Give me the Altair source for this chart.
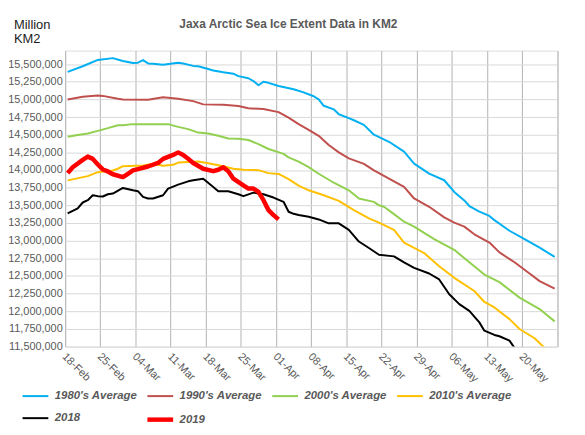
import json
import altair as alt
import pandas as pd

TITLE = "Jaxa Arctic Sea Ice Extent Data in KM2"
UNIT = "Million\nKM2"
TICK_LABELS = ["18-Feb", "25-Feb", "04-Mar", "11-Mar", "18-Mar", "25-Mar", "01-Apr",
               "08-Apr", "15-Apr", "22-Apr", "29-Apr", "06-May", "13-May", "20-May"]
SERIES = ["1980's Average", "1990's Average", "2000's Average", "2010's Average", "2018", "2019"]
COLORS = ["#00B0F0", "#C0504D", "#92D050", "#FFC000", "#000000", "#FF0000"]
WIDTHS = [2, 2, 2, 2, 2, 4.5]

# day index 0 = 18-Feb ; values in million km2
AVG1980_DAY = [0, 3, 6, 9, 11, 13, 14, 15, 16, 17, 19, 22, 23, 25, 26, 28, 29, 31, 33, 34, 36, 37,
               38, 39, 40, 42, 45, 47, 49, 50, 51, 53, 54, 56, 57, 59, 61, 64, 67, 69, 72, 75, 77,
               79, 80, 82, 84, 85, 88, 91, 94, 97]
AVG1980_VAL = [15.39, 15.47, 15.56, 15.585, 15.545, 15.515, 15.52, 15.556, 15.51, 15.505, 15.49,
               15.52, 15.51, 15.475, 15.47, 15.43, 15.41, 15.385, 15.365, 15.33, 15.30, 15.26,
               15.20, 15.25, 15.235, 15.19, 15.145, 15.10, 15.045, 15.0, 14.91, 14.86, 14.79,
               14.735, 14.705, 14.64, 14.50, 14.40, 14.26, 14.09, 13.95, 13.855, 13.69, 13.57,
               13.49, 13.41, 13.35, 13.29, 13.14, 13.02, 12.90, 12.77]

AVG1990_DAY = [0, 3, 6, 7, 10, 11, 16, 19, 22, 25, 27, 31, 34, 36, 39, 42, 44, 46, 48, 50, 52, 54,
               56, 59, 61, 64, 67, 69, 72, 75, 77, 79, 81, 84, 86, 89, 92, 94, 97]
AVG1990_VAL = [15.0, 15.037, 15.056, 15.05, 15.01, 15.0, 14.995, 15.03, 15.01, 14.976, 14.93,
               14.924, 14.906, 14.874, 14.864, 14.82, 14.742, 14.65, 14.57, 14.485, 14.354, 14.25,
               14.166, 14.088, 13.994, 13.877, 13.76, 13.597, 13.479, 13.33, 13.254, 13.198,
               13.09, 12.973, 12.833, 12.693, 12.534, 12.426, 12.32]

AVG2000_DAY = [0, 2, 4, 6, 8, 10, 11, 13, 20, 22, 24, 26, 28, 30, 32, 34, 36, 38, 40, 43, 44, 46,
               48, 50, 53, 56, 58, 61, 62, 63, 65, 67, 69, 73, 77, 80, 83, 86, 90, 94, 97]
AVG2000_VAL = [14.47, 14.495, 14.517, 14.555, 14.593, 14.635, 14.635, 14.65, 14.65, 14.611,
               14.579, 14.53, 14.517, 14.485, 14.447, 14.443, 14.425, 14.368, 14.298, 14.228,
               14.18, 14.12, 14.04, 13.947, 13.82, 13.713, 13.597, 13.549, 13.50, 13.48, 13.375,
               13.268, 13.198, 13.02, 12.87, 12.693, 12.52, 12.412, 12.193, 12.03, 11.856]

AVG2010_DAY = [0, 4, 6, 9, 10, 11, 15, 17, 19, 21, 22, 26, 28, 31, 33, 35, 38, 40, 42, 44, 46, 48,
               51, 54, 57, 60, 62, 65, 67, 71, 74, 77, 81, 83, 85, 88, 90, 93, 95]
AVG2010_VAL = [13.853, 13.914, 13.97, 13.994, 14.018, 14.054, 14.064, 14.088, 14.06, 14.074,
               14.106, 14.12, 14.096, 14.054, 14.018, 14.004, 13.998, 13.956, 13.945, 13.87,
               13.78, 13.713, 13.643, 13.563, 13.432, 13.316, 13.254, 13.152, 12.973, 12.824,
               12.637, 12.473, 12.286, 12.131, 12.053, 11.888, 11.748, 11.617, 11.48]

Y2018_DAY = [0, 2, 3, 4, 5, 6, 7, 8, 9, 11, 13, 14, 15, 16, 17, 19, 20, 22, 24, 25, 27, 29, 30,
             32, 34, 35, 37, 39, 41, 43, 44, 45, 46, 48, 50, 52, 54, 56, 58, 60, 62, 65, 67, 69,
             72, 74, 76, 78, 80, 82, 83, 85, 86, 88, 89]
Y2018_VAL = [13.386, 13.456, 13.54, 13.573, 13.643, 13.63, 13.625, 13.657, 13.667, 13.746,
             13.713, 13.70, 13.62, 13.597, 13.597, 13.643, 13.737, 13.793, 13.84, 13.855,
             13.877, 13.76, 13.699, 13.699, 13.657, 13.63, 13.68, 13.657, 13.61, 13.55, 13.409,
             13.38, 13.362, 13.338, 13.30, 13.245, 13.245, 13.152, 12.987, 12.895, 12.80,
             12.777, 12.693, 12.614, 12.534, 12.45, 12.24, 12.10, 12.005, 11.842, 11.724,
             11.664, 11.645, 11.584, 11.48]

Y2019_DAY = [0, 1, 3, 4, 5, 6, 7, 8, 9, 11, 12, 13, 14, 16, 18, 19, 21, 22, 23, 24, 25, 27, 29,
             30, 31, 32, 33, 35, 36, 37, 38, 39, 40, 41, 42]
Y2019_VAL = [13.956, 14.04, 14.144, 14.19, 14.158, 14.078, 14.008, 13.98, 13.94, 13.90, 13.947,
             13.994, 14.012, 14.05, 14.10, 14.158, 14.214, 14.25, 14.214, 14.158, 14.10, 14.018,
             13.984, 14.004, 14.04, 13.984, 13.877, 13.783, 13.737, 13.737, 13.69, 13.573,
             13.432, 13.362, 13.30]

rows = []
for name, days, vals in zip(SERIES,
                            [AVG1980_DAY, AVG1990_DAY, AVG2000_DAY, AVG2010_DAY, Y2018_DAY, Y2019_DAY],
                            [AVG1980_VAL, AVG1990_VAL, AVG2000_VAL, AVG2010_VAL, Y2018_VAL, Y2019_VAL]):
    for d, v in zip(days, vals):
        rows.append({"series": name, "day": d, "extent": round(v * 1_000_000)})
df = pd.DataFrame(rows)

N_DAYS = 98
X_GRID = [k * 7 - 0.5 for k in range(15)]
Y_TICKS = list(range(11_500_000, 15_500_001, 250_000))
label_expr = json.dumps(TICK_LABELS) + "[round((datum.value + 0.5) / 7)] || ''"

legend = alt.Legend(
    title=None, orient="none", legendX=-45.5, legendY=332, direction="horizontal",
    columns=4, symbolType="stroke", symbolSize=676, labelFontSize=11.5,
    labelFontStyle="italic", labelFontWeight="bold", labelColor="#595959",
    labelOffset=4, columnPadding=0, rowPadding=-3, gridAlign="all", padding=0,
    labelLimit=300,
)

lines = alt.Chart(df).mark_line(clip=True, strokeJoin="round").encode(
    x=alt.X("day:Q", scale=alt.Scale(domain=[-0.5, N_DAYS - 0.5], nice=False, zero=False),
            axis=alt.Axis(values=X_GRID, title=None, labelExpr=label_expr, labelAngle=45,
                          labelAlign="left", labelBaseline="top", labelOffset=2.5,
                          labelPadding=4, ticks=False, domain=False, grid=True,
                          gridColor="#B3B3B3", gridWidth=1, labelFontSize=11,
                          labelColor="#595959", labelOverlap=False, labelFlush=False,
                          labelBound=False)),
    y=alt.Y("extent:Q", scale=alt.Scale(domain=[11_500_000, 15_692_000], nice=False, zero=False),
            axis=alt.Axis(values=Y_TICKS, format=",.0f", title=None, ticks=False, domain=False,
                          grid=True, gridColor="#D9D9D9", gridWidth=1, labelPadding=3,
                          labelFontSize=11, labelColor="#595959")),
    color=alt.Color("series:N", scale=alt.Scale(domain=SERIES, range=COLORS), legend=legend),
    strokeWidth=alt.StrokeWidth("series:N",
                                scale=alt.Scale(domain=SERIES, range=WIDTHS, type="ordinal"),
                                legend=legend),
)

title = alt.Chart(pd.DataFrame({"t": [TITLE]})).mark_text(
    fontSize=12, fontWeight="bold", color="#595959", align="center", baseline="alphabetic"
).encode(text="t:N", x=alt.value(225.3), y=alt.value(-22.3))

unit = alt.Chart(pd.DataFrame({"t": [UNIT]})).mark_text(
    fontSize=13, color="#1a1a1a", align="left", baseline="alphabetic", lineBreak="\n",
    lineHeight=14
).encode(text="t:N", x=alt.value(-51.7), y=alt.value(-22))

chart = alt.layer(lines, title, unit).properties(
    width=496.6, height=298.7,
    padding={"left": 57.7, "top": 41, "right": 20, "bottom": 85},
    autosize=alt.AutoSizeParams(type="none"),
).configure_view(stroke=None).configure(font="Liberation Sans")

chart.save("out.html", embed_options={"renderer": "svg", "actions": False})
